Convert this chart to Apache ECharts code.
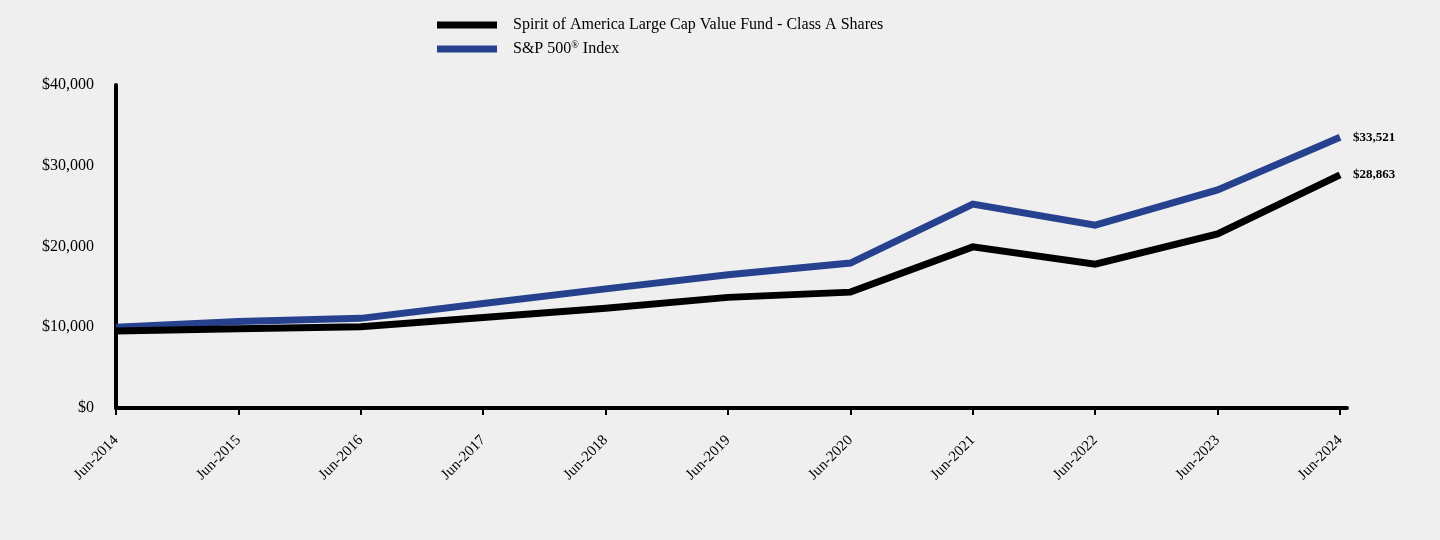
<!DOCTYPE html>
<html>
<head>
<meta charset="utf-8">
<script src="https://cdn.jsdelivr.net/npm/echarts@6/dist/echarts.min.js"></script>
<style>
html,body{margin:0;padding:0;background:#efefef;}
#chart{width:1440px;height:540px;}
</style>
</head>
<body>
<div id="chart"></div>
<script>
const categories = ['Jun-2014','Jun-2015','Jun-2016','Jun-2017','Jun-2018','Jun-2019','Jun-2020','Jun-2021','Jun-2022','Jun-2023','Jun-2024'];
const fundValues = [9525, 9800, 10050, 11200, 12350, 13700, 14350, 19950, 17800, 21550, 28863];
const spValues = [10000, 10700, 11100, 12950, 14750, 16500, 17950, 25250, 22650, 27000, 33521];
const yTicks = [0, 10000, 20000, 30000, 40000];
const fundName = 'Spirit of America Large Cap Value Fund - Class A Shares';
const spName = 'S&P 500® Index';

const chart = echarts.init(document.getElementById('chart'));
const serif = '"Liberation Serif", "DejaVu Serif", serif';
const fmtMoney = v => '$' + Math.round(v).toLocaleString('en-US');

chart.setOption({
  backgroundColor: '#efefef',
  animation: false,
  textStyle: { fontFamily: serif },
  legend: {
    orient: 'vertical',
    left: 432,
    top: 12,
    itemWidth: 60,
    itemHeight: 7,
    itemGap: 7,
    icon: 'rect',
    data: [fundName, spName],
    formatter: function (name) {
      if (name === spName) return '{a|S&P 500}{s|®}{a| Index}';
      return '{a|' + name + '}';
    },
    textStyle: {
      padding: [0, 0, 0, 11],
      rich: {
        a: { fontFamily: serif, fontSize: 16, color: '#000', lineHeight: 18 },
        s: { fontFamily: serif, fontSize: 10, color: '#000', verticalAlign: 'top', lineHeight: 18, padding: [0, 0, 8, 0] }
      }
    }
  },
  grid: { left: 116, right: 93, top: 85, bottom: 132, containLabel: false },
  xAxis: {
    type: 'value',
    min: 0,
    max: 10.057,
    interval: 1,
    axisLine: { show: true, onZero: false, lineStyle: { color: '#000', width: 4 } },
    axisTick: { show: true, length: 7, lineStyle: { color: '#000', width: 2 } },
    splitLine: { show: false },
    axisLabel: {
      showMaxLabel: false,
      rotate: 45,
      margin: 30,
      fontFamily: serif,
      fontSize: 15,
      color: '#000',
      formatter: v => categories[Math.round(v)] || ''
    }
  },
  yAxis: {
    type: 'value',
    min: yTicks[0],
    max: yTicks[yTicks.length - 1],
    interval: 10000,
    axisLine: { show: true, lineStyle: { color: '#000', width: 4 } },
    axisTick: { show: false },
    splitLine: { show: false },
    axisLabel: {
      margin: 22,
      fontFamily: serif,
      fontSize: 16,
      color: '#000',
      formatter: v => fmtMoney(v)
    }
  },
  series: [
    {
      name: fundName,
      type: 'line',
      data: fundValues.map((v, i) => [i, v]),
      symbol: 'none',
      lineStyle: { color: '#000000', width: 7, cap: 'butt', join: 'miter' },
      itemStyle: { color: '#000000' },
      z: 3,
      endLabel: {
        show: true,
        distance: 13,
        formatter: p => fmtMoney(p.value[1]),
        fontFamily: serif,
        fontSize: 13,
        fontWeight: 'bold',
        color: '#000'
      }
    },
    {
      name: spName,
      type: 'line',
      data: spValues.map((v, i) => [i, v]),
      symbol: 'none',
      lineStyle: { color: '#26418e', width: 7, cap: 'butt', join: 'miter' },
      itemStyle: { color: '#26418e' },
      z: 2,
      endLabel: {
        show: true,
        distance: 13,
        formatter: p => fmtMoney(p.value[1]),
        fontFamily: serif,
        fontSize: 13,
        fontWeight: 'bold',
        color: '#000'
      }
    }
  ]
});
</script>
</body>
</html>
